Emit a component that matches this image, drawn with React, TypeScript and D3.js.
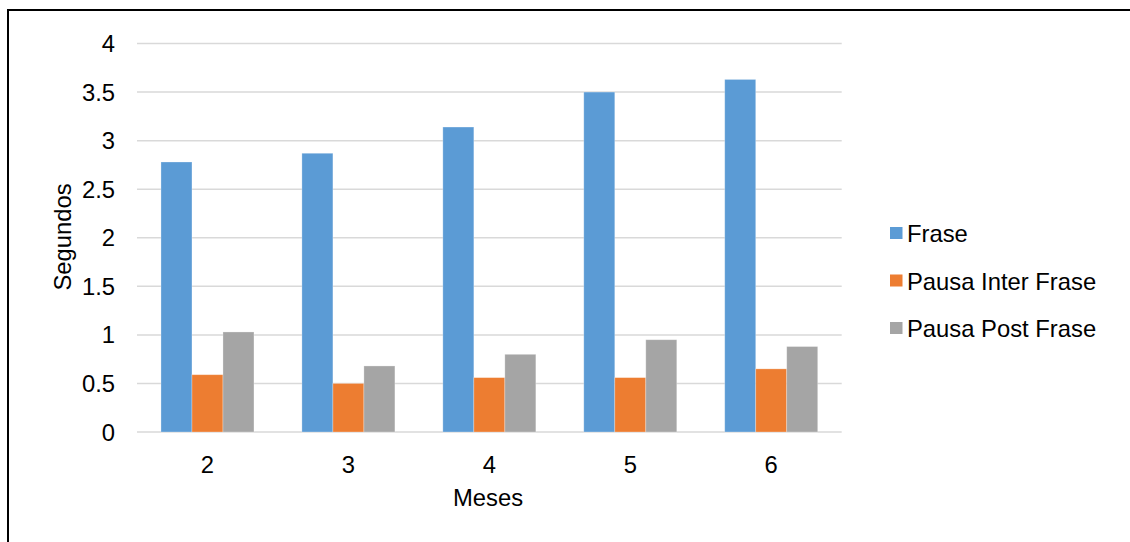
import React from "react";
import * as d3 from "d3";

const categories = ["2", "3", "4", "5", "6"];
const seriesNames = ["Frase", "Pausa Inter Frase", "Pausa Post Frase"];
const frase = [2.78, 2.87, 3.14, 3.5, 3.63];
const pausaInter = [0.59, 0.5, 0.56, 0.56, 0.65];
const pausaPost = [1.03, 0.68, 0.8, 0.95, 0.88];
const yTicks = [0, 0.5, 1, 1.5, 2, 2.5, 3, 3.5, 4];
const colors = ["#5B9BD5", "#ED7D31", "#A5A5A5"];

const W = 1130;
const H = 542;
const FONT = "'Liberation Sans', Arial, sans-serif";
const FS = 23.8;

function T({ x, y, children, anchor = "start", rotate = false }: any) {
  const tr = rotate ? `translate(${x},${y}) rotate(-90)` : `translate(${x},${y})`;
  return (
    <text
      transform={tr}
      textAnchor={anchor}
      dominantBaseline="central"
      fontFamily={FONT}
      fontSize={FS}
      fill="#000"
    >
      {children}
    </text>
  );
}

export default function App() {
  const x0 = d3.scaleBand<string>().domain(categories).range([137, 841.7]).paddingInner(0).paddingOuter(0);
  const groupW = 93;
  const x1 = d3.scaleBand<string>().domain(seriesNames).range([0, groupW]).padding(0);
  const y = d3.scaleLinear().domain([0, 4]).range([432, 43.5]);
  const data = [frase, pausaInter, pausaPost];

  return (
    <div style={{ position: "absolute", left: 0, top: 0 }}>
      <svg width={W} height={H} style={{ display: "block", background: "#fff" }}>
        <rect x={8} y={10} width={W + 10} height={H + 10} fill="#fff" stroke="#000" strokeWidth={2} />
        {yTicks.map((t) => (
          <line key={t} x1={137} x2={841.7} y1={y(t)} y2={y(t)} stroke="#D9D9D9" strokeWidth={1.5} />
        ))}
        {categories.map((c, i) => {
          const gx = (x0(c) as number) + x0.bandwidth() / 2 - groupW / 2;
          return (
            <g key={c}>
              {seriesNames.map((s, j) => (
                <rect
                  key={s}
                  x={gx + (x1(s) as number)}
                  y={y(data[j][i])}
                  width={x1.bandwidth()}
                  height={y(0) - y(data[j][i])}
                  fill={colors[j]}
                  stroke="#ffffff"
                  strokeOpacity={0.35}
                  strokeWidth={0.8}
                />
              ))}
            </g>
          );
        })}
        {yTicks.map((t) => (
          <T key={t} x={115} y={y(t)} anchor="end">
            {String(t)}
          </T>
        ))}
        {categories.map((c) => (
          <T key={c} x={(x0(c) as number) + x0.bandwidth() / 2} y={464} anchor="middle">
            {c}
          </T>
        ))}
        <T x={488} y={497} anchor="middle">Meses</T>
        <T x={62} y={237} anchor="middle" rotate>Segundos</T>
        {seriesNames.map((s, j) => (
          <g key={s}>
            <rect x={890} y={227 + j * 47.5} width={12.5} height={12} fill={colors[j]} />
            <T x={907} y={233.5 + j * 47.5}>{s}</T>
          </g>
        ))}
      </svg>
    </div>
  );
}
